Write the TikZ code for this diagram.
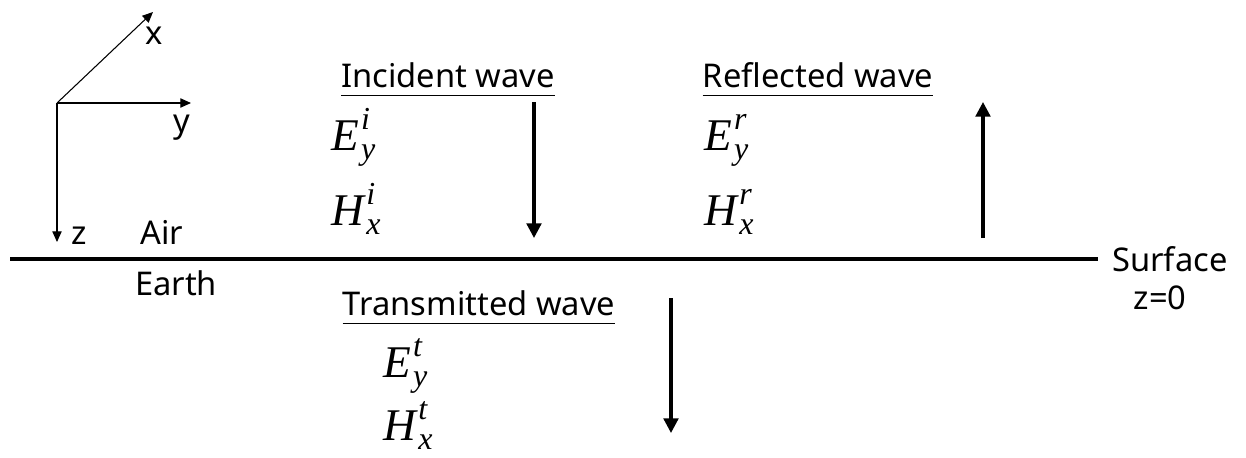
\documentclass[tikz,border=0pt]{standalone}
\usepackage{fontspec}
\setmainfont{Noto Sans}
\newfontfamily\mfont{Liberation Serif}[ItalicFont=*-Italic]
\usetikzlibrary{arrows.meta}
\newcommand\fld[3]{{\mfont\itshape #1}\kern0.05em\makebox[0pt][l]{\raisebox{0.45em}{\fontsize{24}{24}\selectfont\mfont\itshape #3}}\raisebox{-0.2em}{\fontsize{24}{24}\selectfont\mfont\itshape #2}}
\tikzset{
  lbl/.style={font=\fontsize{24.5}{28}\selectfont, inner sep=0pt, anchor=center},
  fldlbl/.style={font=\fontsize{34}{38}\selectfont, inner sep=0pt, anchor=base west},
  axis/.style={line width=0.8pt, -{Triangle[length=8pt,width=7pt]}},
  wave/.style={line width=2.4pt, -{Triangle[length=11pt,width=11pt]}},
  uline/.style={line width=0.8pt}
}
\begin{document}
\begin{tikzpicture}[x=0.75pt,y=-0.75pt]
\useasboundingbox (0,0) rectangle (1246,457);
% axes
\coordinate (o) at (57,103);
\coordinate (xt) at (153,12);
\coordinate (yt) at (191,103);
\coordinate (zt) at (57,242);
\draw[axis] (o) -- (xt);
\draw[axis] (o) -- (yt);
\draw[axis] (o) -- (zt);
\node[lbl] (xl) at (154,36) {x};
\node[lbl] (yl) at (182,128) {y};
\node[lbl] (zl) at (79,236) {z};
\node[lbl] (air) at (162,232) {Air};
\node[lbl] (earth) at (176,283) {Earth};
% surface
\coordinate (s0) at (10,259);
\coordinate (s1) at (1098,259);
\draw[line width=3pt] (s0) -- (s1);
\node[lbl,anchor=west] (surf) at (1112,259) {Surface};
\node[lbl] (z0) at (1160,298) {z=0};
% incident
\node[lbl] (inc) at (448,75) {Incident wave};
\draw[uline] ([yshift=-6pt]inc.base west) -- ([yshift=-6pt]inc.base east);
\node[fldlbl] (ei) at (331,150) {\fld{E}{y}{i}};
\node[fldlbl] (hi) at (331,225) {\fld{H}{x}{i}};
\coordinate (ia) at (534,102);
\coordinate (ib) at (534,238);
\draw[wave] (ia) -- (ib);
% reflected
\node[lbl] (ref) at (818,75) {Reflected wave};
\draw[uline] ([yshift=-6pt]ref.base west) -- ([yshift=-6pt]ref.base east);
\node[fldlbl] (er) at (704,150) {\fld{E}{y}{r}};
\node[fldlbl] (hr) at (704,225) {\fld{H}{x}{r}};
\coordinate (ra) at (983,238);
\coordinate (rb) at (983,102);
\draw[wave] (ra) -- (rb);
% transmitted
\node[lbl] (tr) at (479,303) {Transmitted wave};
\draw[uline] ([yshift=-6pt]tr.base west) -- ([yshift=-6pt]tr.base east);
\node[fldlbl] (et) at (383,377) {\fld{E}{y}{t}};
\node[fldlbl] (ht) at (383,440) {\fld{H}{x}{t}};
\coordinate (ta) at (671,298);
\coordinate (tb) at (671,433);
\draw[wave] (ta) -- (tb);
\end{tikzpicture}
\end{document}
